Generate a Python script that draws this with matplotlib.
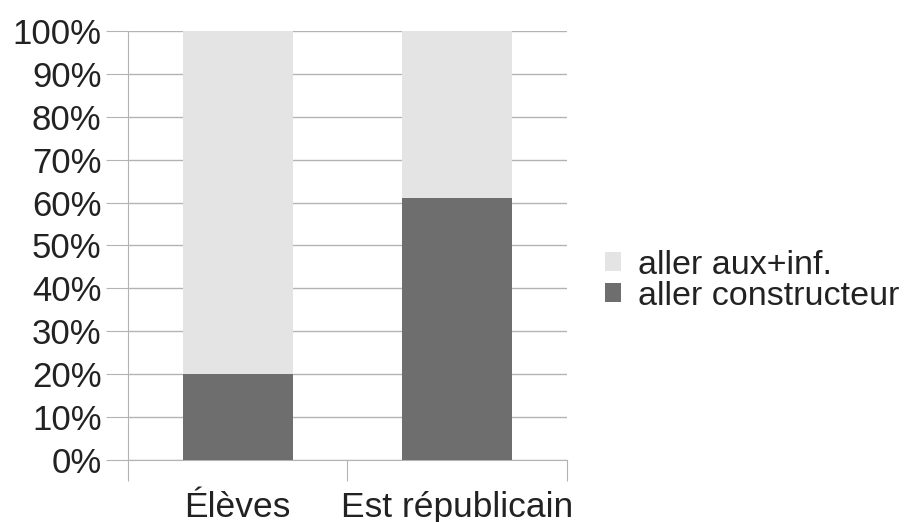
import matplotlib.pyplot as plt
import numpy as np

plt.rcParams['font.family'] = ['Liberation Sans', 'DejaVu Sans']

categories = ['Élèves', 'Est républicain']
constructeur = [20, 61]
aux_inf = [80, 39]
yticks = [0, 10, 20, 30, 40, 50, 60, 70, 80, 90, 100]

fig = plt.figure(figsize=(9.17, 5.22), dpi=100)
ax = fig.add_axes([0.1396, 0.1188, 0.4786, 0.8218])

x = np.arange(len(categories))
ax.bar(x, constructeur, width=0.5, color='#6e6e6e', label='aller constructeur', zorder=3)
ax.bar(x, aux_inf, width=0.5, bottom=constructeur, color='#e4e4e4', label='aller aux+inf.', zorder=3)

ax.set_xlim(-0.5, 1.5)
ax.set_ylim(0, 100)
ax.set_yticks(yticks)
ax.set_yticklabels([f'{v}%' for v in yticks], fontsize=25, color='#222222')
ax.set_xticks([-0.5, 0.5, 1.5])
ax.set_xticklabels([])
ax.set_xticks(x, minor=True)
ax.set_xticklabels(categories, minor=True, fontsize=25.5, color='#222222')
ax.tick_params(axis='x', which='minor', length=0, pad=22)
ax.tick_params(axis='x', which='major', length=15, color='#b3b3b3')
ax.tick_params(axis='y', length=16, color='#b3b3b3', pad=3)

ax.yaxis.grid(True, color='#b3b3b3', linewidth=1, zorder=0)
for s in ['top', 'right']:
    ax.spines[s].set_visible(False)
ax.spines['left'].set_color('#b3b3b3')
ax.spines['bottom'].set_color('#b3b3b3')

# legend: light series on top
handles, labels = ax.get_legend_handles_labels()
fig.legend(handles[::-1], labels[::-1], loc='center left', bbox_to_anchor=(0.66, 0.462),
           frameon=False, fontsize=24.5, handlelength=0.46, handleheight=0.46,
           handletextpad=0.5, labelspacing=0.0, borderaxespad=0, borderpad=0,
           labelcolor='#222222')

fig.savefig('out.png', dpi=100)
